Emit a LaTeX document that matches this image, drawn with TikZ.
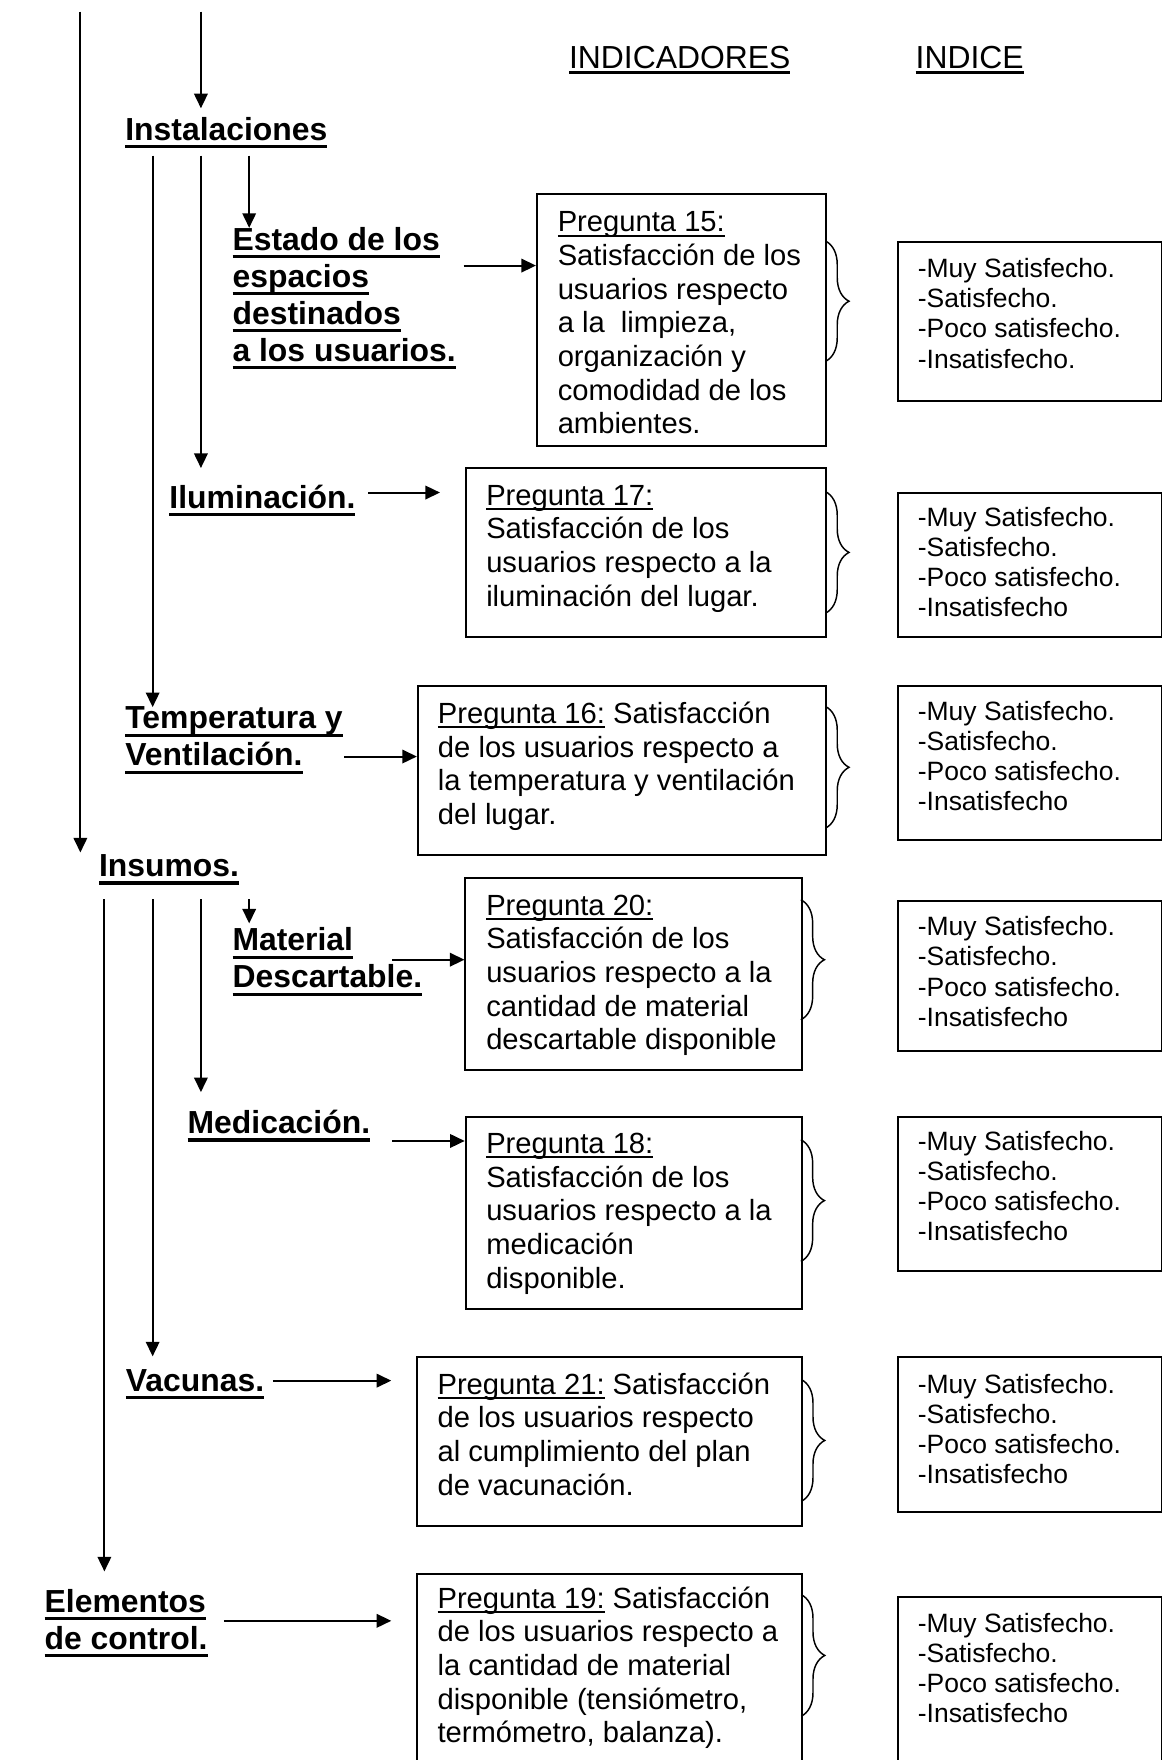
\documentclass[tikz,border=0pt]{standalone}
\usepackage{fontspec}
\setmainfont{Liberation Sans}
\usetikzlibrary{arrows.meta,decorations.pathreplacing}

\newcommand\ulb[1]{\setbox0=\hbox{#1}\rlap{\rule[-0.25em]{\wd0}{0.1em}}\box0\relax}
\newcommand\ulr[1]{\setbox0=\hbox{#1}\rlap{\rule[-0.17em]{\wd0}{0.075em}}\box0\relax}
\newcommand\ml[1]{\begin{tabular}[t]{@{}l@{}}#1\end{tabular}}
\newcommand\idx[1]{\ml{-Muy Satisfecho.\\-Satisfecho.\\-Poco satisfecho.\\-Insatisfecho#1}}

\tikzset{
  ln/.style={line width=1.8pt},
  arr/.style={ln, -{Triangle[length=13pt,width=12pt]}},
  hd/.style={inner sep=0pt, anchor=base west, font=\fontsize{28.4}{33}\selectfont\bfseries},
  hr/.style={inner sep=0pt, anchor=base west, font=\fontsize{28.4}{33}\selectfont},
  tx/.style={inner sep=0pt, anchor=base west, font=\fontsize{26}{30}\selectfont},
  ix/.style={inner sep=0pt, anchor=base west, font=\fontsize{23.6}{26.8}\selectfont},
  bx/.style={draw, line width=1.8pt, inner sep=0pt, anchor=north west},
  br/.style={decorate, decoration={brace, amplitude=21pt}, line width=1.3pt},
}

\begin{document}
\begin{tikzpicture}[x=1pt,y=-1pt]
\useasboundingbox (0,0) rectangle (1035,1568);
\clip (0,0) rectangle (1035,1568);

% headers
\node[hr] (hind) at (506.8,60.7) {\ulr{INDICADORES}};
\node[hr] (hidx) at (815.6,60.7) {\ulr{INDICE}};

% headings
\node[hd] (inst) at (111.5,125) {\ulb{Instalaciones}};
\node[hd] (est) at (207,223) {\ml{\ulb{Estado de los}\\\ulb{espacios}\\\ulb{destinados}\\\ulb{a los usuarios.}}};
\node[hd] (ilu) at (150.8,453) {\ulb{Iluminación.}};
\node[hd] (temp) at (111.5,649.3) {\ml{\ulb{Temperatura y}\\\ulb{Ventilación.}}};
\node[hd] (ins) at (88,781) {\ulb{Insumos.}};
\node[hd] (mat) at (207,847) {\ml{\ulb{Material}\\\ulb{Descartable.}}};
\node[hd] (med) at (167,1010) {\ulb{Medicación.}};
\node[hd] (vac) at (112,1239.3) {\ulb{Vacunas.}};
\node[hd] (ele) at (39.6,1436.3) {\ml{\ulb{Elementos}\\\ulb{de control.}}};

% question boxes
\node[bx, minimum width=257.9pt, minimum height=224.4pt] (p15) at (477.5,172) {};
\node[bx, minimum width=321.4pt, minimum height=151.3pt] (p17) at (414,415.7) {};
\node[bx, minimum width=364pt, minimum height=151pt] (p16) at (371.4,610) {};
\node[bx, minimum width=299.7pt, minimum height=171pt] (p20) at (413.8,781) {};
\node[bx, minimum width=299.5pt, minimum height=170.9pt] (p18) at (414,994.6) {};
\node[bx, minimum width=342.8pt, minimum height=150.6pt] (p21) at (371,1208.4) {};
\node[bx, minimum width=342.8pt, minimum height=220pt] (p19) at (371,1401) {};

\node[tx] (t15) at (496.7,206.6) {\ml{\ulr{Pregunta 15:}\\Satisfacción de los\\usuarios respecto\\a la\ \ limpieza,\\organización y\\comodidad de los\\ambientes.}};
\node[tx] (t17) at (433,450) {\ml{\ulr{Pregunta 17:}\\Satisfacción de los\\usuarios respecto a la\\iluminación del lugar.}};
\node[tx] (t16) at (390,644.5) {\ml{\ulr{Pregunta 16:} Satisfacción\\de los usuarios respecto a\\la temperatura y ventilación\\del lugar.}};
\node[tx] (t20) at (433,815.2) {\ml{\ulr{Pregunta 20:}\\Satisfacción de los\\usuarios respecto a la\\cantidad de material\\descartable disponible}};
\node[tx] (t18) at (433,1027.6) {\ml{\ulr{Pregunta 18:}\\Satisfacción de los\\usuarios respecto a la\\medicación\\disponible.}};
\node[tx] (t21) at (389.6,1242) {\ml{\ulr{Pregunta 21:} Satisfacción\\de los usuarios respecto\\al cumplimiento del plan\\de vacunación.}};
\node[tx] (t19) at (389.6,1432.6) {\ml{\ulr{Pregunta 19:} Satisfacción\\de los usuarios respecto a\\la cantidad de material\\disponible (tensiómetro,\\termómetro, balanza).}};

% index boxes
\node[bx, minimum width=235pt, minimum height=141.6pt] (i1) at (799,214.7) {};
\node[bx, minimum width=235pt, minimum height=129pt] (i2) at (799,438) {};
\node[bx, minimum width=235pt, minimum height=137.3pt] (i3) at (799,610) {};
\node[bx, minimum width=235pt, minimum height=133pt] (i4) at (799,802) {};
\node[bx, minimum width=235pt, minimum height=137.2pt] (i5) at (799,994.6) {};
\node[bx, minimum width=235pt, minimum height=137.6pt] (i6) at (799,1208.4) {};
\node[bx, minimum width=235pt, minimum height=200pt] (i7) at (799,1422) {};

\node[ix] (i1t) at (817.5,247.5) {\idx{.}};
\node[ix] (i2t) at (817.5,468.7) {\idx{}};
\node[ix] (i3t) at (817.5,642) {\idx{}};
\node[ix] (i4t) at (817.5,833.8) {\idx{}};
\node[ix] (i5t) at (817.5,1025) {\idx{}};
\node[ix] (i6t) at (817.5,1241.5) {\idx{}};
\node[ix] (i7t) at (817.5,1454.5) {\idx{}};

% braces
\draw[br] (735.4,214.7) -- (735.4,322);
\draw[br] (735.4,438) -- (735.4,546.3);
\draw[br] (735.4,629.4) -- (735.4,737.8);
\draw[br] (713.5,801.6) -- (713.5,908.5);
\draw[br] (713.5,1015.4) -- (713.5,1123.8);
\draw[br] (713.8,1229) -- (713.8,1337.6);
\draw[br] (713.8,1420.7) -- (713.8,1529);

% vertical connectors
\coordinate (v0a) at (71.6,10.4);   \coordinate (v0b) at (71.6,759.5);
\coordinate (v1a) at (179,10.4);    \coordinate (v1b) at (179,96.5);
\coordinate (v2a) at (222,138.7);   \coordinate (v2b) at (222,203);
\coordinate (v3a) at (179,138.7);   \coordinate (v3b) at (179,417);
\coordinate (v4a) at (136,138.7);   \coordinate (v4b) at (136,630);
\coordinate (v5a) at (222,801);     \coordinate (v5b) at (222,822.7);
\coordinate (v6a) at (179,801);     \coordinate (v6b) at (179,973);
\coordinate (v7a) at (136,801);     \coordinate (v7b) at (136,1208.4);
\coordinate (v8a) at (93,801);      \coordinate (v8b) at (93,1400);
\foreach \v in {0,...,8} {\draw[arr] (v\v a) -- (v\v b);}

% horizontal connectors
\coordinate (h1) at (413,236.6);
\draw[arr] (h1) -- (h1 -| p15.west);
\coordinate (h2a) at (328,438.8); \coordinate (h2b) at (392,438.8);
\draw[arr] (h2a) -- (h2b);
\coordinate (h3) at (306.7,674);
\draw[arr] (h3) -- (h3 -| p16.west);
\coordinate (h4) at (349.4,855);
\draw[arr] (h4) -- (h4 -| p20.west);
\coordinate (h5) at (349.4,1016.5);
\draw[arr] (h5) -- (h5 -| p18.west);
\coordinate (h6a) at (243,1230); \coordinate (h6b) at (348.6,1230);
\draw[arr] (h6a) -- (h6b);
\coordinate (h7a) at (199.4,1444); \coordinate (h7b) at (348.6,1444);
\draw[arr] (h7a) -- (h7b);
\end{tikzpicture}
\end{document}
